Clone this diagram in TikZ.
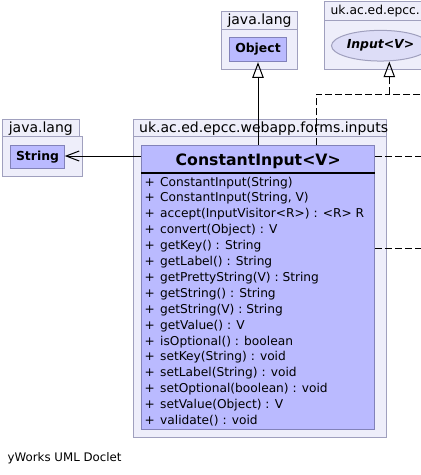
\documentclass[tikz,border=0pt]{standalone}
\usepackage{fontspec}
\setmainfont{DejaVu Sans}
\usetikzlibrary{arrows.meta,shapes.geometric}
\definecolor{pkgfill}{RGB}{238,238,250}
\definecolor{pkgdraw}{RGB}{160,160,190}
\definecolor{clsfill}{RGB}{186,186,255}
\definecolor{clsdraw}{RGB}{130,130,185}
\definecolor{ifcfill}{RGB}{221,221,247}
\newcommand\umlreg{\fontsize{12.2pt}{15pt}\selectfont}
\newcommand\umlfoot{\fontsize{11.8pt}{15pt}\selectfont}
\newcommand\umlpkg{\fontsize{14pt}{16pt}\selectfont}
\newcommand\umlpkgsmall{\fontsize{12.3pt}{16pt}\selectfont}
\newcommand\umlbold{\fontsize{12.4pt}{15pt}\selectfont\bfseries}
\newcommand\umlbi{\fontsize{12.4pt}{15pt}\selectfont\bfseries\itshape}
\newcommand\umltitle{\fontsize{15.7pt}{18pt}\selectfont\bfseries}
\tikzset{
  pkg/.style={draw=pkgdraw, fill=pkgfill, line width=1pt},
  pkgtext/.style={anchor=base west, inner sep=0pt, font=\umlpkg},
  cls/.style={draw=clsdraw, fill=clsfill, line width=1pt, inner sep=0pt, font=\umlbold},
  member/.style={anchor=base west, inner sep=0pt, font=\umlreg},
  conn/.style={line width=1pt, draw=black},
  realize/.style={conn, dash pattern=on 7pt off 3pt},
  gentip/.style={-{Triangle[open, length=15.6pt, width=11.4pt, line width=1pt]}},
  usetip/.style={-{Straight Barb[length=13pt, width=10pt, line width=1pt]}},
}
\begin{document}
\begin{tikzpicture}[x=1pt,y=-1pt]
\useasboundingbox (0,0) rectangle (421,475);
\clip (0,0) rectangle (421,475);
\fill[white] (0,0) rectangle (421,475);

% package java.lang (Object)
\draw[pkg] (221.7,11.7) rectangle (297.3,29.3);
\draw[pkg] (221.7,29.3) rectangle (297.3,69.3);
\node[pkgtext] (pkgobj) at (227.3,24.7) {java.lang};
\node[cls, minimum width=57.4pt, minimum height=24.4pt] (object) at (258,49.5) {Object};

% package uk.ac.ed.epcc. (Input)
\draw[pkg] (324.7,1.5) rectangle (470,20.7);
\draw[pkg] (324.3,20.7) rectangle (470,69.3);
\node[pkgtext, font=\umlpkgsmall] (pkgin) at (330.5,14.5) {uk.ac.ed.epcc.};
\node[ellipse, draw=pkgdraw, fill=ifcfill, line width=1pt, minimum width=98pt, minimum height=30.7pt, inner sep=0pt,
      font=\umlbi] (input) at (380.5,45.7) {Input<V>};

% package java.lang (String)
\draw[pkg] (2.7,119.3) rectangle (79.3,136);
\draw[pkg] (2.7,136) rectangle (82.3,176);
\node[pkgtext] (pkgstr) at (8.6,132.5) {java.lang};
\node[cls, minimum width=53.6pt, minimum height=22.6pt] (string) at (37.5,157) {String};

% package uk.ac.ed.epcc.webapp.forms.inputs
\draw[pkg] (133.3,119.3) rectangle (386,136);
\draw[pkg] (133.3,136) rectangle (386.7,437.7);
\node[pkgtext] (pkgmain) at (139,132.5) {uk.ac.ed.epcc.webapp.forms.inputs};

% class ConstantInput<V>
\node[cls, minimum width=233pt, minimum height=284pt] (cls) at (258.2,287.3) {};
\node[anchor=base, inner sep=0pt, font=\umltitle] (title) at (258.2,165.3) {ConstantInput<V>};
\draw[line width=2pt] (cls.west |- 0,172.5) coordinate (sepL) -- (cls.east |- 0,172.5) coordinate (sepR);
\foreach \m [count=\i] in {
  ConstantInput(String),
  {ConstantInput(String, V)},
  accept(InputVisitor<R>) : <R> R,
  convert(Object) : V,
  getKey() : String,
  getLabel() : String,
  getPrettyString(V) : String,
  getString() : String,
  getString(V) : String,
  getValue() : V,
  isOptional() : boolean,
  setKey(String) : void,
  setLabel(String) : void,
  setOptional(boolean) : void,
  setValue(Object) : V,
  validate() : void}
  \node[member] (m\i) at (144.5,{186+15.9*(\i-1)}) {\makebox[15.5pt][l]{+}\m};

% generalization to Object
\draw[conn, gentip] (cls.north -| object.south) -- (object.south);

% realization to Input
\coordinate (rA) at (316.3,145.3);
\coordinate (rB) at (316.3,94.3);
\coordinate (rC) at (389.3,94.3);
\coordinate (rT) at (389.3,61.5);
\coordinate (rE) at (430,94.3);
\draw[realize] (rA) -- (rB) -- (rC);
\draw[realize] (rE) -- (rC);
\draw[realize, gentip] (rC) -- (rT);

% dependency to String
\draw[conn, usetip] (cls.west |- 0,156) -- (string.east |- 0,156);

% dependencies leaving to the right
\coordinate (d1) at (430,156);
\coordinate (d2) at (430,248.3);
\draw[realize] (cls.east |- d1) -- (d1);
\draw[realize] (cls.east |- d2) -- (d2);

\node[anchor=base west, inner sep=0pt, font=\umlfoot] (footer) at (7.5,461) {yWorks UML Doclet};
\end{tikzpicture}
\end{document}
